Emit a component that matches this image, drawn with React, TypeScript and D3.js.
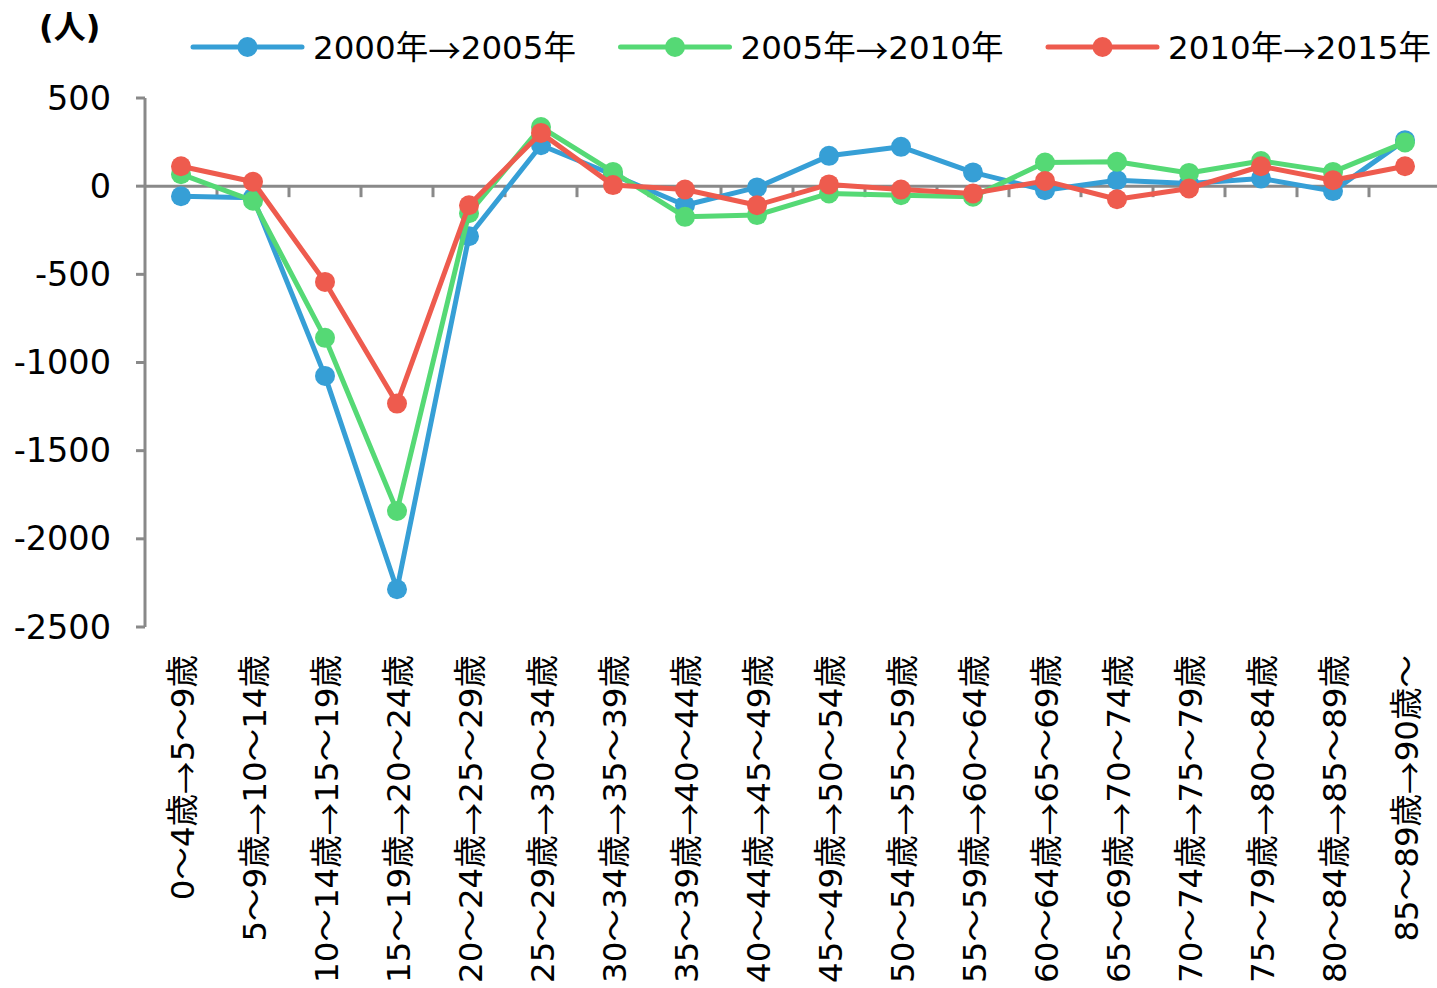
import React from "react";
import * as d3 from "d3";

const categories = [
  "0～4歳→5～9歳",
  "5～9歳→10～14歳",
  "10～14歳→15～19歳",
  "15～19歳→20～24歳",
  "20～24歳→25～29歳",
  "25～29歳→30～34歳",
  "30～34歳→35～39歳",
  "35～39歳→40～44歳",
  "40～44歳→45～49歳",
  "45～49歳→50～54歳",
  "50～54歳→55～59歳",
  "55～59歳→60～64歳",
  "60～64歳→65～69歳",
  "65～69歳→70～74歳",
  "70～74歳→75～79歳",
  "75～79歳→80～84歳",
  "80～84歳→85～89歳",
  "85～89歳→90歳～",
];

const s2000_2005 = [-57, -65, -1076, -2286, -284, 232, 65, -108, -7, 172, 223, 78, -23, 34, 15, 44, -28, 261];
const s2005_2010 = [68, -83, -860, -1842, -153, 335, 81, -174, -164, -41, -51, -60, 134, 138, 75, 143, 81, 248];
const s2010_2015 = [113, 25, -543, -1233, -108, 302, 6, -19, -108, 10, -19, -41, 30, -74, -13, 113, 34, 113];

const seriesNames = ["2000年→2005年", "2005年→2010年", "2010年→2015年"];
const seriesColors = ["#369fd6", "#55d975", "#ee5b4e"];
const yTicks = [500, 0, -500, -1000, -1500, -2000, -2500];
const yUnit = "(人)";

const FONT = "'DejaVu Sans', 'Noto Sans CJK JP', sans-serif";
const CJK = "'Noto Sans CJK JP', sans-serif";

function withArrow(s: string) {
  const parts = s.split("→");
  const out: React.ReactNode[] = [];
  parts.forEach((p, i) => {
    if (i > 0)
      out.push(
        <tspan key={"a" + i} fontFamily={CJK}>
          →
        </tspan>
      );
    out.push(<tspan key={"p" + i}>{p}</tspan>);
  });
  return out;
}

export default function App() {
  const W = 1437;
  const H = 988;
  const left = 145;
  const bandW = 72;
  const x = d3
    .scaleBand<string>()
    .domain(categories)
    .range([left, left + bandW * categories.length])
    .paddingInner(0)
    .paddingOuter(0);
  const y = d3.scaleLinear().domain([-2500, 500]).range([627, 98]);
  const cx = (c: string) => (x(c) as number) + x.bandwidth() / 2;
  const data = [s2000_2005, s2005_2010, s2010_2015];
  const line = d3
    .line<number>()
    .x((_, i) => cx(categories[i]))
    .y((d) => y(d));
  const axisColor = "#898989";

  return (
    <svg
      width={W}
      height={H}
      style={{ position: "absolute", left: 0, top: 0, background: "#fff" }}
      fontFamily={FONT}
    >
      {/* y unit */}
      <text x={39} y={27} fontSize={32} fontWeight="bold" dominantBaseline="central" fill="#000">
        {yUnit}
      </text>

      {/* legend */}
      {seriesNames.map((name, i) => {
        const lx = 193 + i * 427.5;
        return (
          <g key={name}>
            <line x1={lx} x2={lx + 109} y1={47} y2={47} stroke={seriesColors[i]} strokeWidth={5} strokeLinecap="round" />
            <circle cx={lx + 54.5} cy={47} r={10} fill={seriesColors[i]} />
            <text x={lx + 120} y={48} fontSize={32.5} dominantBaseline="central" fill="#000">
              {withArrow(name)}
            </text>
          </g>
        );
      })}

      {/* y axis */}
      <line x1={left} x2={left} y1={y(500)} y2={y(-2500)} stroke={axisColor} strokeWidth={3} />
      {yTicks.map((t) => (
        <g key={t}>
          <line x1={left - 9} x2={left} y1={y(t)} y2={y(t)} stroke={axisColor} strokeWidth={3} />
          <text x={111} y={y(t)} fontSize={33.5} textAnchor="end" dominantBaseline="central" fill="#000">
            {t}
          </text>
        </g>
      ))}

      {/* zero line with category ticks */}
      <line x1={left} x2={W} y1={y(0)} y2={y(0)} stroke={axisColor} strokeWidth={3} />
      {categories.map((c) => (
        <line
          key={"t" + c}
          x1={(x(c) as number) + bandW}
          x2={(x(c) as number) + bandW}
          y1={y(0)}
          y2={y(0) + 11}
          stroke={axisColor}
          strokeWidth={3}
        />
      ))}

      {/* series */}
      {data.map((vals, si) => (
        <g key={si}>
          <path d={line(vals) || ""} fill="none" stroke={seriesColors[si]} strokeWidth={5} strokeLinejoin="round" />
          {vals.map((v, i) => (
            <circle key={i} cx={cx(categories[i])} cy={y(v)} r={10} fill={seriesColors[si]} />
          ))}
        </g>
      ))}

      {/* x labels */}
      {categories.map((c) => (
        <text
          key={"l" + c}
          transform={`translate(${cx(c) + 2},655) rotate(-90)`}
          fontSize={32.5}
          textAnchor="end"
          dominantBaseline="central"
          fill="#000"
        >
          {withArrow(c)}
        </text>
      ))}
    </svg>
  );
}
